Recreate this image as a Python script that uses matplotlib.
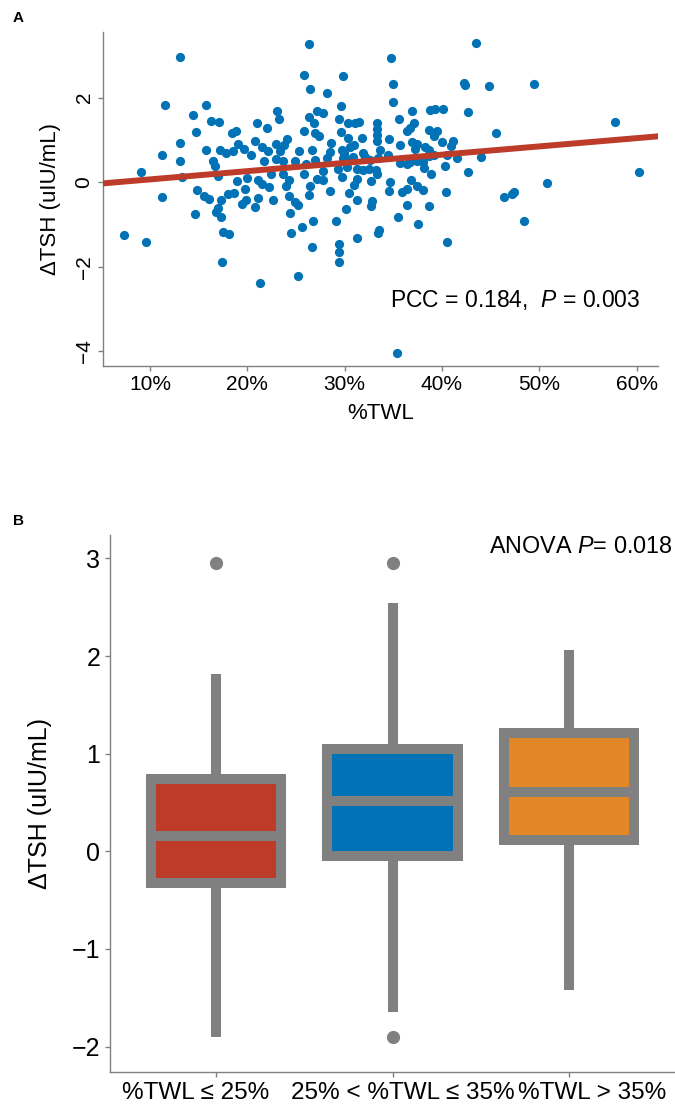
import matplotlib
matplotlib.use("Agg")
import matplotlib.pyplot as plt
from matplotlib.transforms import ScaledTranslation

plt.rcParams['font.family'] = ['Liberation Sans', 'DejaVu Sans']
plt.rcParams['mathtext.fontset'] = 'custom'
plt.rcParams['mathtext.rm'] = 'Liberation Sans'
plt.rcParams['mathtext.it'] = 'Liberation Sans:italic'

# ---- panel A data: %TWL vs delta TSH ----
twl = [25.8, 26.41, 11.51, 15.72, 14.45, 16.3, 17.12, 23.02, 23.26, 21.0,
       22.06, 14.76, 18.43, 18.87, 26.29, 26.89, 27.19, 25.8, 26.96, 13.05,
       20.79, 19.07, 22.95, 24.05, 23.74, 21.54, 22.16, 11.2, 15.72, 17.23,
       17.84, 18.56, 19.69, 20.35, 23.33, 25.31, 26.65, 13.05, 16.51, 16.68,
       21.75, 22.95, 23.64, 24.87, 26.03, 26.99, 13.26, 17.02, 18.91, 19.97,
       21.13, 21.48, 22.4, 23.64, 24.29, 25.86, 27.13, 11.23, 14.86, 15.55,
       16.06, 18.02, 18.63, 19.79, 22.26, 23.98, 26.44, 26.34, 17.33, 19.49,
       19.9, 21.07, 22.67, 24.32, 24.9, 25.24, 14.59, 16.96, 16.81, 17.27,
       20.82, 24.39, 26.75, 25.59, 17.47, 18.12, 24.46, 26.62, 17.37, 21.27,
       25.18,
       29.87, 35.0, 42.24, 42.37, 28.16, 34.94, 29.66, 27.78, 38.78, 39.26,
       40.08, 42.68, 36.9, 29.39, 30.32, 31.07, 31.45, 33.3, 35.56, 37.13,
       29.63, 27.4, 33.33, 33.33, 33.33, 31.79, 30.32, 28.57, 34.56, 36.44,
       36.72, 38.71, 39.5, 39.19, 40.01, 41.11, 40.97, 36.9, 37.41, 37.27,
       35.69, 38.29, 38.64, 28.5, 29.76, 29.97, 30.55, 31.0, 31.86, 32.07,
       33.64, 34.43, 28.22, 29.8, 30.28, 30.89, 32.61, 33.46, 35.69, 36.38,
       36.72, 37.41, 38.09, 38.64, 39.19, 40.49, 41.52, 43.97, 27.81, 29.35,
       30.28, 31.24, 31.92, 32.54, 33.23, 33.3, 38.16, 40.35, 38.91, 42.68,
       27.75, 29.76, 31.24, 30.97, 32.74, 34.67, 36.79, 37.47, 38.09, 28.5,
       30.42, 34.53, 35.87, 36.44, 40.42, 31.24, 32.79, 32.68, 30.11, 36.38,
       38.67, 35.46, 29.15, 33.57, 33.46, 37.57, 31.24, 40.49, 29.39, 29.39,
       29.39,
       13.05, 9.04, 7.33, 9.56, 35.39, 46.41, 47.17, 47.41, 48.44, 43.47,
       44.81, 49.47, 45.53, 57.76, 60.26, 50.8, 26.34, 34.8]
dtsh = [2.54, 2.21, 1.82, 1.83, 1.58, 1.45, 1.43, 1.69, 1.5, 1.41,
        1.27, 1.18, 1.17, 1.21, 1.53, 1.39, 1.68, 1.21, 1.16, 0.93,
        0.97, 0.91, 0.91, 1.02, 0.88, 0.83, 0.74, 0.65, 0.76, 0.76,
        0.69, 0.73, 0.79, 0.65, 0.74, 0.74, 0.75, 0.51, 0.51, 0.37,
        0.49, 0.54, 0.5, 0.51, 0.44, 0.53, 0.11, 0.15, 0.02, 0.09,
        0.05, -0.05, 0.2, 0.2, 0.04, 0.2, 0.08, -0.35, -0.19, -0.32,
        -0.39, -0.28, -0.25, -0.16, -0.12, -0.09, -0.1, -0.31, -0.43, -0.52,
        -0.43, -0.38, -0.42, -0.33, -0.47, -0.55, -0.76, -0.61, -0.7, -0.83,
        -0.58, -0.73, -0.91, -1.05, -1.17, -1.22, -1.21, -1.54, -1.89, -2.39,
        -2.22,
        2.5, 2.31, 2.35, 2.29, 2.1, 1.89, 1.8, 1.63, 1.7, 1.73,
        1.73, 1.65, 1.68, 1.5, 1.41, 1.39, 1.43, 1.41, 1.5, 1.41,
        1.19, 1.08, 1.25, 1.12, 0.98, 1.05, 1.04, 0.92, 1.03, 1.2,
        1.28, 1.24, 1.21, 1.09, 0.94, 0.98, 0.86, 0.96, 0.91, 0.78,
        0.87, 0.83, 0.75, 0.72, 0.76, 0.69, 0.83, 0.87, 0.69, 0.59,
        0.76, 0.65, 0.56, 0.56, 0.54, 0.59, 0.53, 0.56, 0.45, 0.42,
        0.48, 0.5, 0.48, 0.62, 0.65, 0.64, 0.56, 0.59, 0.27, 0.32,
        0.35, 0.32, 0.29, 0.31, 0.29, 0.19, 0.34, 0.39, 0.19, 0.23,
        0.05, 0.12, 0.07, -0.06, 0.03, 0.01, 0.05, -0.08, -0.18, -0.21,
        -0.25, -0.2, -0.24, -0.16, -0.23, -0.42, -0.45, -0.56, -0.63, -0.53,
        -0.57, -0.82, -0.92, -1.13, -1.2, -1.0, -1.32, -1.41, -1.46, -1.65,
        -1.88,
        2.95, 0.25, -1.26, -1.42, -4.04, -0.34, -0.28, -0.24, -0.91, 3.28,
        2.28, 2.32, 1.16, 1.43, 0.24, -0.03, 3.27, 2.94]

# fitted line
fit_slope = 0.0195
fit_intercept = -0.13

x_ticks_a = [10, 20, 30, 40, 50, 60]
x_labels_a = ['10%', '20%', '30%', '40%', '50%', '60%']
y_ticks_a = [-4, -2, 0, 2]

# ---- panel B data: box summaries per %TWL group ----
groups = ['%TWL \u2264 25%', '25% < %TWL \u2264 35%', '%TWL > 35%']
q1 = [-0.32, -0.05, 0.12]
med = [0.16, 0.52, 0.61]
q3 = [0.74, 1.05, 1.21]
whis_lo = [-1.90, -1.65, -1.42]
whis_hi = [1.82, 2.54, 2.06]
outliers = [[2.95], [2.95, -1.90], []]
box_colors = ['#BC3C29', '#0072B5', '#E18727']

gray = '#808080'
W, H = 675, 1105
fig = plt.figure(figsize=(W / 100, H / 100), dpi=100)

def style_axes(ax):
    for s in ['top', 'right']:
        ax.spines[s].set_visible(False)
    for s in ['left', 'bottom']:
        ax.spines[s].set_color(gray)
        ax.spines[s].set_linewidth(1.0)
    ax.tick_params(color=gray, length=3.5, width=1.0, labelcolor='black')

# Panel A
axA = fig.add_axes([103.3 / W, 1 - 365.7 / H, (658 - 103.3) / W, (365.7 - 32) / H])
style_axes(axA)
axA.scatter(twl, dtsh, s=44, color='#0072B5', linewidths=0, zorder=2)
xl = (5.2, 62.2)
axA.plot(xl, [fit_intercept + fit_slope * v for v in xl], color='#BC3C29',
         lw=4.3, solid_capstyle='round', zorder=3)
axA.set_xlim(*xl)
axA.set_ylim(-4.34, 3.55)
axA.set_xticks(x_ticks_a)
axA.set_xticklabels(x_labels_a, fontsize=15)
axA.set_yticks(y_ticks_a)
axA.set_yticklabels([str(t).replace('-', '\u2212') for t in y_ticks_a],
                    fontsize=15, rotation=90, va='center')
axA.set_xlabel('%TWL', fontsize=16, labelpad=6)
axA.set_ylabel('\u0394TSH (uIU/mL)', fontsize=16, labelpad=10)
axA.text(34.7, -2.78, 'PCC = 0.184,  $P$ = 0.003', fontsize=16.5, ha='left', va='center')

# Panel B
axB = fig.add_axes([110 / W, 1 - 1072 / H, (675 - 110) / W, (1072 - 535) / H])
style_axes(axB)
stats = []
for i in range(len(groups)):
    stats.append(dict(med=med[i], q1=q1[i], q3=q3[i], whislo=whis_lo[i],
                      whishi=whis_hi[i], fliers=outliers[i]))
bp = axB.bxp(stats, positions=[1, 2, 3], widths=0.74, patch_artist=True,
             showcaps=False,
             boxprops=dict(linewidth=7.2, edgecolor=gray),
             whiskerprops=dict(linewidth=7.2, color=gray, solid_capstyle='butt'),
             medianprops=dict(linewidth=7.2, color=gray, solid_capstyle='butt'),
             flierprops=dict(marker='o', markerfacecolor=gray, markeredgecolor=gray,
                             markersize=8.5))
for patch, c in zip(bp['boxes'], box_colors):
    patch.set_facecolor(c)
    patch.set_joinstyle('miter')
axB.set_xlim(0.4, 3.6)
axB.set_ylim(-2.26, 3.24)
axB.set_xticks([1, 2, 3])
axB.set_xticklabels(groups, fontsize=17.5)
# the group labels sit a little off their ticks in the original
for lab, dx in zip(axB.get_xticklabels(), [-20, 10, 23]):
    lab.set_transform(lab.get_transform() + ScaledTranslation(dx / 100, 0, fig.dpi_scale_trans))
axB.set_yticks([-2, -1, 0, 1, 2, 3])
axB.tick_params(axis='y', labelsize=18)
axB.set_ylabel('\u0394TSH (uIU/mL)', fontsize=18, labelpad=14)
axB.text(0.995, 0.978, 'ANOVA $P$= 0.018', transform=axB.transAxes, fontsize=16.8,
         ha='right', va='center')

fig.text(13 / W, 1 - 18 / H, 'A', fontsize=11, fontweight='bold', va='center')
fig.text(13 / W, 1 - 521 / H, 'B', fontsize=11, fontweight='bold', va='center')

fig.savefig('out.png', dpi=100)
